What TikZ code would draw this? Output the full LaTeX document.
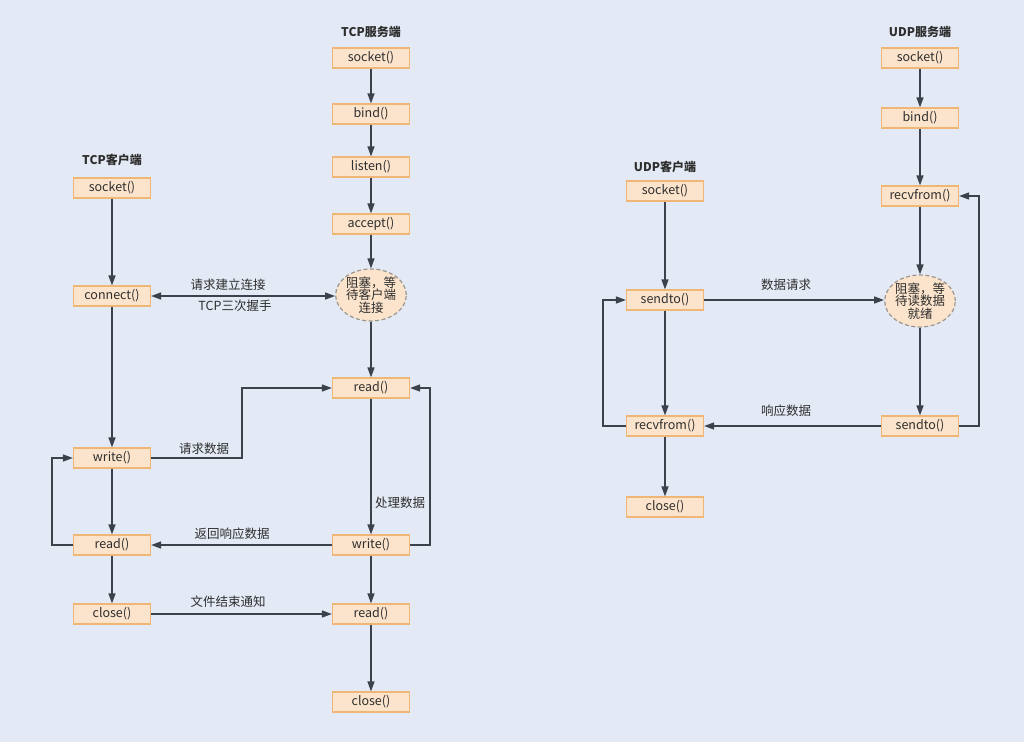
\documentclass[tikz,border=0pt]{standalone}
\usepackage{fontspec}
\setmainfont{Noto Sans CJK SC}
\usetikzlibrary{arrows.meta,shapes.geometric}
\definecolor{bg}{HTML}{E3EAF5}
\definecolor{boxfill}{HTML}{FCE4CC}
\definecolor{boxline}{HTML}{EFB676}
\definecolor{ln}{HTML}{3C414B}
\definecolor{txt}{HTML}{2E2E2E}
\definecolor{dashc}{HTML}{9A9690}
\tikzset{
  fn/.style={draw=boxline, fill=boxfill, line width=1.2pt, minimum width=77pt, minimum height=20pt, inner sep=0pt, font=\fontsize{12.5}{13}\selectfont, text=txt},
  wait/.style={ellipse, draw=dashc, dashed, dash pattern=on 4pt off 2.5pt, fill=boxfill, line width=1.2pt, minimum width=70pt, minimum height=52pt, inner sep=0pt, align=center, font=\fontsize{12.5}{12.5}\selectfont, text=txt},
  title/.style={font=\fontsize{12}{13}\selectfont\bfseries, text=txt},
  lab/.style={font=\fontsize{12.5}{13}\selectfont, text=txt},
  conn/.style={draw=ln, line width=1.4pt, -{Triangle[length=10pt,width=7pt]}},
  conn2/.style={draw=ln, line width=1.4pt, {Triangle[length=10pt,width=7pt]}-{Triangle[length=10pt,width=7pt]}},
}
\begin{document}
\begin{tikzpicture}[x=1pt,y=-1pt]
\fill[bg] (0,0) rectangle (1024,742);
\useasboundingbox (0,0) rectangle (1024,742);
% TCP server
\node[title] (ts) at (371,32) {TCP服务端};
\node[fn] (s1) at (371,58) {socket()};
\node[fn] (s2) at (371,114) {bind()};
\node[fn] (s3) at (371,167) {listen()};
\node[fn] (s4) at (371,224) {accept()};
\node[wait] (s5) at (371,295) {阻塞，等\\待客户端\\连接};
\node[fn] (s6) at (371,388) {read()};
\node[fn] (s7) at (371,545) {write()};
\node[fn] (s8) at (371,614) {read()};
\node[fn] (s9) at (371,702) {close()};
% TCP client
\node[title] (tc) at (112,160) {TCP客户端};
\node[fn] (c1) at (112,188) {socket()};
\node[fn] (c2) at (112,296) {connect()};
\node[fn] (c3) at (112,458) {write()};
\node[fn] (c4) at (112,545) {read()};
\node[fn] (c5) at (112,614) {close()};
% UDP client
\node[title] (uc) at (665,167) {UDP客户端};
\node[fn] (u1) at (665,191) {socket()};
\node[fn] (u2) at (665,300) {sendto()};
\node[fn] (u3) at (665,426) {recvfrom()};
\node[fn] (u4) at (665,507) {close()};
% UDP server
\node[title] (us) at (920,32) {UDP服务端};
\node[fn] (v1) at (920,58) {socket()};
\node[fn] (v2) at (920,118) {bind()};
\node[fn] (v3) at (920,196) {recvfrom()};
\node[wait] (v4) at (920,301) {阻塞，等\\待读数据\\就绪};
\node[fn] (v5) at (920,426) {sendto()};
% TCP server column
\draw[conn] (s1) -- (s2);
\draw[conn] (s2) -- (s3);
\draw[conn] (s3) -- (s4);
\draw[conn] (s4) -- (s5);
\draw[conn] (s5) -- (s6);
\draw[conn] (s6) -- (s7);
\node[lab] (l4) at (400,503) {处理数据};
\draw[conn] (s7) -- (s8);
\draw[conn] (s8) -- (s9);
\draw[conn] (s7.east) -- ++(20,0) |- (s6.east);
% TCP client column
\draw[conn] (c1) -- (c2);
\draw[conn] (c2) -- (c3);
\draw[conn] (c3) -- (c4);
\draw[conn] (c4) -- (c5);
\draw[conn] (c4.west) -- ++(-21,0) |- (c3.west);
% TCP cross
\draw[conn2] (c2.east) -- (s5.west |- c2.east);
\node[lab] (l1) at (228,285) {请求建立连接};
\node[lab] (l2) at (235,306) {TCP三次握手};
\draw[conn] (c3.east) -- (242,458) |- (s6.west);
\node[lab] (l3) at (204,449) {请求数据};
\draw[conn] (s7.west) -- (c4.east);
\node[lab] (l5) at (232,534) {返回响应数据};
\draw[conn] (c5.east) -- (s8.west);
\node[lab] (l6) at (228,602) {文件结束通知};
% UDP client
\draw[conn] (u1) -- (u2);
\draw[conn] (u2) -- (u3);
\draw[conn] (u3) -- (u4);
\draw[conn] (u3.west) -- ++(-23,0) |- (u2.west);
% UDP server
\draw[conn] (v1) -- (v2);
\draw[conn] (v2) -- (v3);
\draw[conn] (v3) -- (v4);
\draw[conn] (v4) -- (v5);
\draw[conn] (v5.east) -- ++(20,0) |- (v3.east);
% UDP cross
\draw[conn] (u2.east) -- (v4.west |- u2.east);
\node[lab] (l7) at (786,285) {数据请求};
\draw[conn] (v5.west) -- (u3.east);
\node[lab] (l8) at (786,411) {响应数据};
\end{tikzpicture}
\end{document}
